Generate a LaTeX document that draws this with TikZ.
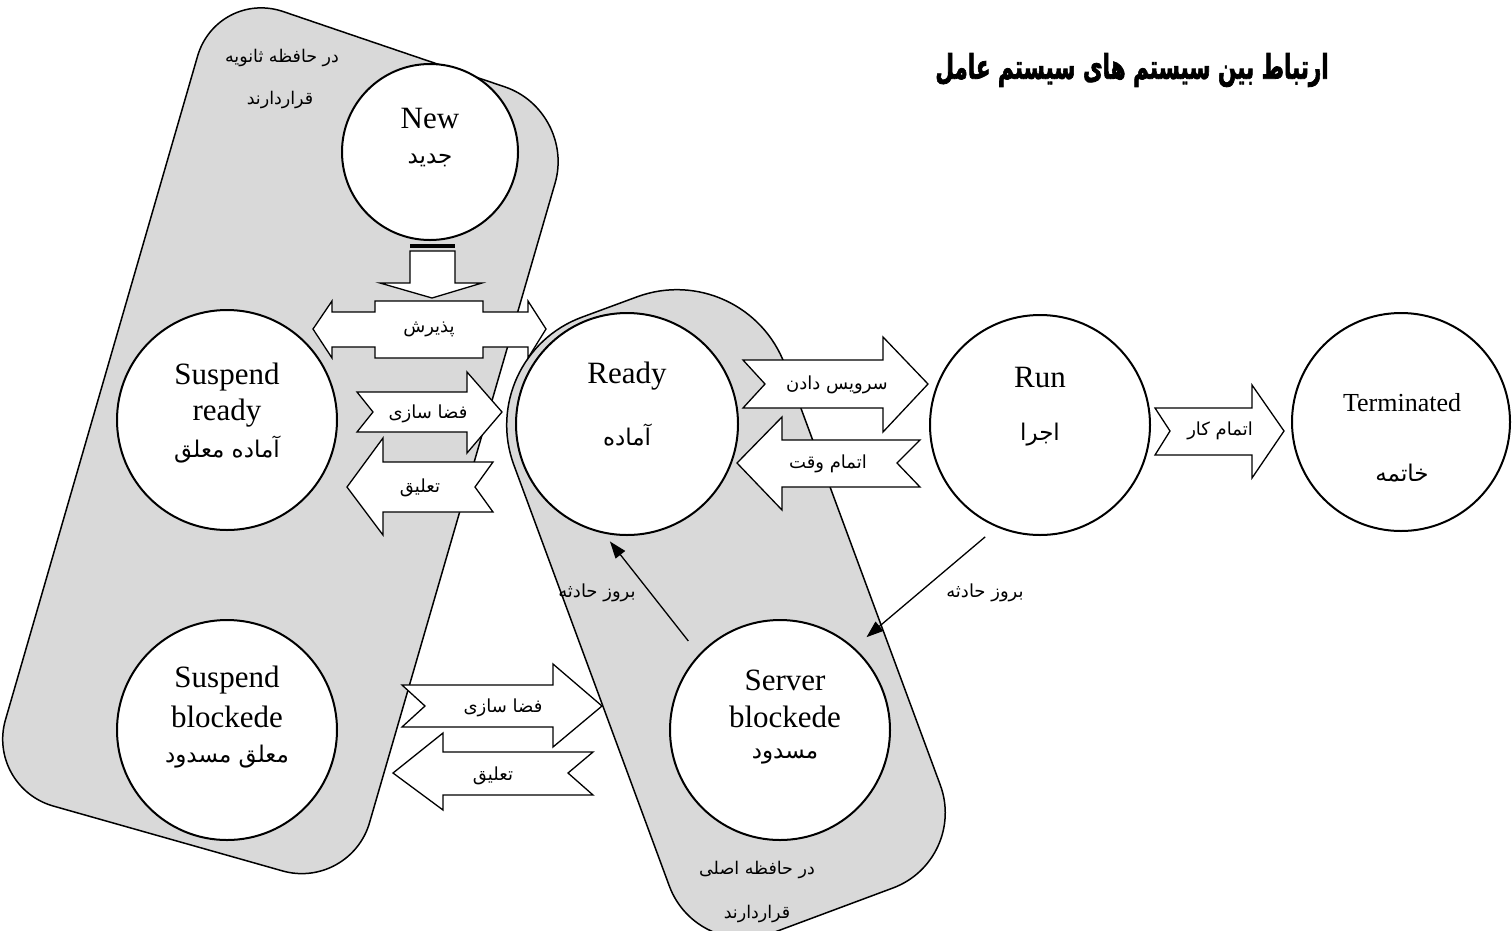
\documentclass[tikz,border=0pt]{standalone}
\usepackage{fontspec}
\setmainfont{Liberation Serif}
\newfontfamily\fa[Script=Arabic]{DejaVu Sans}
\newfontfamily\fatitle[Script=Arabic, BoldFeatures={FakeBold=2.5}]{DejaVu Sans}
\TeXXeTstate=1
\usetikzlibrary{arrows.meta,calc}
\newcommand\rtl[1]{\beginR #1\endR}
\begin{document}
\begin{tikzpicture}[x=1pt,y=-1pt,
  memgray/.style={draw=black, line width=1.5pt, fill=gray!30},
  st/.style={circle, draw=black, line width=2pt, fill=white, inner sep=0pt},
  en/.style={font=\fontsize{31}{31}\selectfont, inner sep=0pt},
  ensmall/.style={font=\fontsize{26}{26}\selectfont, inner sep=0pt},
  fac/.style={font=\fa\fontsize{23}{23}\selectfont, inner sep=0pt},
  fal/.style={font=\fa\fontsize{18}{18}\selectfont, inner sep=0pt},
  fanote/.style={font=\fa\fontsize{17.5}{17.5}\selectfont, inner sep=0pt},
  blk/.style={draw=black, line width=1.3pt, fill=white, line join=miter},
  thinarrow/.style={draw=black, line width=1.3pt, -{Triangle[length=17pt,width=12pt]}}]
\useasboundingbox (0,0) rectangle (1512,930);

% gray memory regions
\draw[memgray] (396,50) [rounded corners=75pt] -- (576,111) [rounded corners=70pt] -- (350,890) -- (-14,787) -- (217,-11) -- cycle;

\coordinate (rTL) at (474,357);
\coordinate (rTR) at (745,257);
\coordinate (rBR) at (968,860);
\coordinate (rBL) at (697,961);
\draw[memgray] ($(rTL)!115pt!(rTR)$) -- ($(rTR)!115pt!(rTL)$)
  .. controls ($(rTR)!51.5pt!(rTL)$) and ($(rTR)!51.5pt!(rBR)$) .. ($(rTR)!115pt!(rBR)$)
  -- ($(rBR)!80pt!(rTR)$)
  .. controls ($(rBR)!35.8pt!(rTR)$) and ($(rBR)!35.8pt!(rBL)$) .. ($(rBR)!80pt!(rBL)$)
  -- ($(rBL)!80pt!(rBR)$)
  .. controls ($(rBL)!35.8pt!(rBR)$) and ($(rBL)!35.8pt!(rTL)$) .. ($(rBL)!80pt!(rTL)$)
  -- ($(rTL)!115pt!(rBL)$)
  .. controls ($(rTL)!51.5pt!(rBL)$) and ($(rTL)!51.5pt!(rTR)$) .. ($(rTL)!115pt!(rTR)$)
  -- cycle;

% states
\node[st, minimum size=176pt] (new) at (430,152) {};
\node[st, minimum size=220pt] (sr) at (227,420) {};
\node[st, minimum size=222pt] (ready) at (627,424) {};
\node[st, minimum size=220pt] (run) at (1040,425) {};
\node[st, minimum size=218pt] (term) at (1401,422) {};
\node[st, minimum size=220pt] (sb) at (227,730) {};
\node[st, minimum size=220pt] (srvb) at (780,730) {};

\node[en] (newE) at (430,118) {New};
\node[fac] (newF) at (430,160) {\rtl{جدید}};
\node[en] (srE1) at (227,377) {Suspend};
\node[en] (srE2) at (227,413) {ready};
\node[fac] (srF) at (227,450) {\rtl{آماده معلق}};
\node[en] (readyE) at (627,376) {Ready};
\node[fac] (readyF) at (627,435) {\rtl{آماده}};
\node[en] (runE) at (1040,377) {Run};
\node[fac] (runF) at (1040,435) {\rtl{اجرا}};
\node[ensmall] (termE) at (1402,403) {Terminated};
\node[fac] (termF) at (1402,473) {\rtl{خاتمه}};
\node[en] (sbE1) at (227,680) {Suspend};
\node[en] (sbE2) at (227,717) {blockede};
\node[fac] (sbF) at (227,757) {\rtl{معلق مسدود}};
\node[en] (srvE1) at (785,680) {Server};
\node[en] (srvE2) at (785,717) {blockede};
\node[fac] (srvF) at (785,757) {\rtl{مسدود}};

% memory labels
\node[fanote] (sec1) at (282,58) {\rtl{در حافظه ثانویه}};
\node[fanote] (sec2) at (280,100) {\rtl{قراردارند}};
\node[fanote] (main1) at (757,870) {\rtl{در حافظه اصلی}};
\node[fanote] (main2) at (757,914) {\rtl{قراردارند}};

% title
\node[font=\fatitle\bfseries\fontsize{25}{25}\selectfont, inner sep=0pt] (title) at (1132,70) {\scalebox{0.86}[1.35]{\rtl{ارتباط بین سیستم های سیستم عامل}}};

% striped arrow from New
\fill[black] (410,244) rectangle (455,248);
\draw[blk] (410,251) -- (455,251) -- (455,283) -- (482,283) -- (432,298) -- (380,283) -- (410,283) -- cycle;

% accept (double arrow)
\draw[blk] (313,329) -- (332,301) -- (332,312) -- (375,312) -- (375,301) -- (483,301) -- (483,312) -- (528,312) -- (528,301) -- (546,329) -- (528,358) -- (528,347) -- (483,347) -- (483,358) -- (375,358) -- (375,347) -- (332,347) -- (332,358) -- cycle;
\node[fal] (accept) at (429,329) {\rtl{پذیرش}};

% upper swap-in
\draw[blk] (357,392) -- (467,392) -- (467,372) -- (502,412) -- (467,453) -- (467,432) -- (357,432) -- (373,412) -- cycle;
\node[fal] (swin1) at (428,414) {\rtl{فضا سازی}};
% upper suspend
\draw[blk] (347,487) -- (383,438) -- (383,462) -- (493,462) -- (475,487) -- (493,512) -- (383,512) -- (383,535) -- cycle;
\node[fal] (susp1) at (420,488) {\rtl{تعلیق}};
% dispatch
\draw[blk] (743,360) -- (883,360) -- (883,337) -- (928,384) -- (883,432) -- (883,408) -- (743,408) -- (765,384) -- cycle;
\node[fal] (disp) at (837,385) {\rtl{سرویس دادن}};
% timeout
\draw[blk] (737,463) -- (782,417) -- (782,440) -- (920,440) -- (897,463) -- (920,487) -- (782,487) -- (782,510) -- cycle;
\node[fal] (tout) at (828,464) {\rtl{اتمام وقت}};
% exit
\draw[blk] (1155,408) -- (1252,408) -- (1252,385) -- (1284,431) -- (1252,478) -- (1252,455) -- (1155,455) -- (1170,431) -- cycle;
\node[fal] (exitl) at (1220,431) {\rtl{اتمام کار}};
% lower swap-in
\draw[blk] (402,685) -- (553,685) -- (553,664) -- (602,706) -- (553,747) -- (553,727) -- (402,727) -- (425,706) -- cycle;
\node[fal] (swin2) at (503,708) {\rtl{فضا سازی}};
% lower suspend
\draw[blk] (393,773) -- (443,733) -- (443,752) -- (593,752) -- (568,773) -- (593,795) -- (443,795) -- (443,810) -- cycle;
\node[fal] (susp2) at (493,776) {\rtl{تعلیق}};

% event arrows
\draw[thinarrow, shorten <=17pt, shorten >=10pt] (srvb.137) -- (ready.-102);
\draw[thinarrow, shorten <=15pt, shorten >=16pt] (run.-113) -- (srvb.48);
\node[fal] (ev1) at (597,593) {\rtl{بروز حادثه}};
\node[fal] (ev2) at (985,593) {\rtl{بروز حادثه}};
\end{tikzpicture}
\end{document}
